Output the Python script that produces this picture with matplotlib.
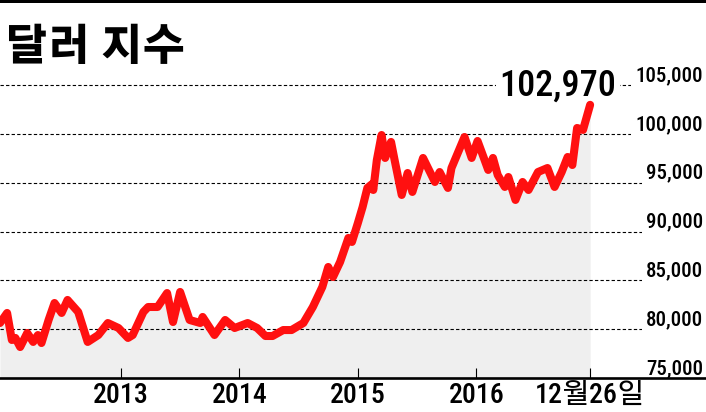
import matplotlib.pyplot as plt
from matplotlib.patches import Rectangle
import matplotlib.transforms as mtransforms

# dollar index (decimal year, index)
years = [2011.98, 2012.04, 2012.08, 2012.11, 2012.15, 2012.21, 2012.26, 2012.30, 2012.33,
         2012.39, 2012.44, 2012.50, 2012.55, 2012.64, 2012.72, 2012.81, 2012.89, 2012.98,
         2013.06, 2013.10, 2013.19, 2013.23, 2013.31, 2013.39, 2013.44, 2013.50, 2013.58,
         2013.67, 2013.69, 2013.79, 2013.88, 2013.96, 2014.07, 2014.15, 2014.22, 2014.28,
         2014.37, 2014.44, 2014.54, 2014.62, 2014.70, 2014.75, 2014.79, 2014.85, 2014.92,
         2014.95, 2015.00, 2015.04, 2015.08, 2015.12, 2015.13, 2015.16, 2015.20, 2015.23,
         2015.28, 2015.31, 2015.37, 2015.42, 2015.46, 2015.55, 2015.65, 2015.69, 2015.76,
         2015.79, 2015.90, 2015.96, 2016.01, 2016.06, 2016.10, 2016.14, 2016.18, 2016.24,
         2016.27, 2016.33, 2016.39, 2016.44, 2016.52, 2016.60, 2016.66, 2016.72, 2016.77,
         2016.81, 2016.85, 2016.90, 2016.96]
index = [80.63, 81.66, 78.89, 79.10, 78.17, 79.61, 78.69, 79.40, 78.58,
         80.94, 82.68, 81.66, 82.99, 81.76, 78.69, 79.40, 80.63, 80.12,
         79.10, 79.40, 81.76, 82.27, 82.27, 83.70, 80.73, 83.81, 80.94,
         80.63, 81.25, 79.40, 80.94, 80.12, 80.63, 80.12, 79.30, 79.30,
         79.91, 79.91, 80.63, 82.27, 84.32, 86.37, 85.34, 86.88, 89.34,
         88.93, 90.87, 92.51, 94.46, 94.86, 94.25, 97.32, 99.88, 97.53,
         99.17, 97.32, 93.74, 95.99, 94.05, 97.53, 95.07, 96.09, 94.46,
         96.50, 99.68, 97.53, 99.27, 97.63, 96.30, 97.53, 95.79, 94.56,
         95.58, 93.23, 95.07, 94.25, 96.09, 96.50, 94.56, 96.09, 97.63,
         96.81, 100.60, 100.40, 102.97]

year_ticks = [2013, 2014, 2015, 2016]
year_labels = ['2013', '2014', '2015', '2016']
last_label = '12월26일'
grid_values = [75, 80, 85, 90, 95, 100, 105]
title = '달러 지수'

num_font = ['Roboto Condensed', 'Gothic A1', 'Noto Sans CJK KR', 'DejaVu Sans']
kr_font = ['Gothic A1', 'Noto Sans CJK KR', 'DejaVu Sans']

fig = plt.figure(figsize=(7.06, 4.12), dpi=100)
ax = fig.add_axes([0, 34 / 412, 1, 318 / 412])
ax.set_xlim(2011.98, 2011.98 + 706 / 118.5)
ax.set_ylim(75, 75 + 318 * 30 / 293)

# shaded area and red line
ax.fill_between(years, index, 75, color='#efefef', lw=0, zorder=1)
ax.plot(years, index, color='#ff1010', lw=5.8, solid_capstyle='round',
        solid_joinstyle='round', zorder=4)

# dashed grid + labels with white background
trans = mtransforms.blended_transform_factory(ax.transAxes, ax.transData)
for v in grid_values:
    if v > 75:
        ax.axhline(v, color='black', lw=0.8, ls=(0, (3, 2)), zorder=2)
    ax.text(703 / 706, v, f'{v:.3f}'.replace('.', ','), transform=trans,
            ha='right', va='bottom', fontsize=15, family=num_font, fontweight='medium',
            bbox=dict(boxstyle='square,pad=0.2', fc='white', ec='none'), zorder=3)

# last value annotation
ax.annotate(f'{index[-1]:.3f}'.replace('.', ','), (years[-1], index[-1]),
            xytext=(-32, 9), textcoords='offset pixels', ha='center', va='baseline',
            fontsize=26, family=num_font, fontweight='medium',
            bbox=dict(boxstyle='square,pad=0.1', fc='white', ec='none'), zorder=3)

# axes
for s in ['top', 'left', 'right']:
    ax.spines[s].set_visible(False)
ax.spines['bottom'].set_linewidth(1.9)
ax.spines['bottom'].set_zorder(5)
ax.set_yticks([])
ax.set_xticks(year_ticks + [years[-1]])
ax.set_xticklabels(year_labels + [last_label], family=num_font, fontsize=20,
                   fontweight='medium')
ax.tick_params(axis='x', direction='in', length=7.2, width=0.8, pad=3, color='black')

# title and top rule
fig.text(5 / 706, 1 - 60 / 412, title, fontsize=30, fontweight='black',
         family=kr_font, va='baseline', ha='left')
fig.add_artist(Rectangle((0, 1 - 3 / 412), 1, 3 / 412, transform=fig.transFigure,
                         color='black', lw=0))

fig.savefig('out.png', dpi=100)
